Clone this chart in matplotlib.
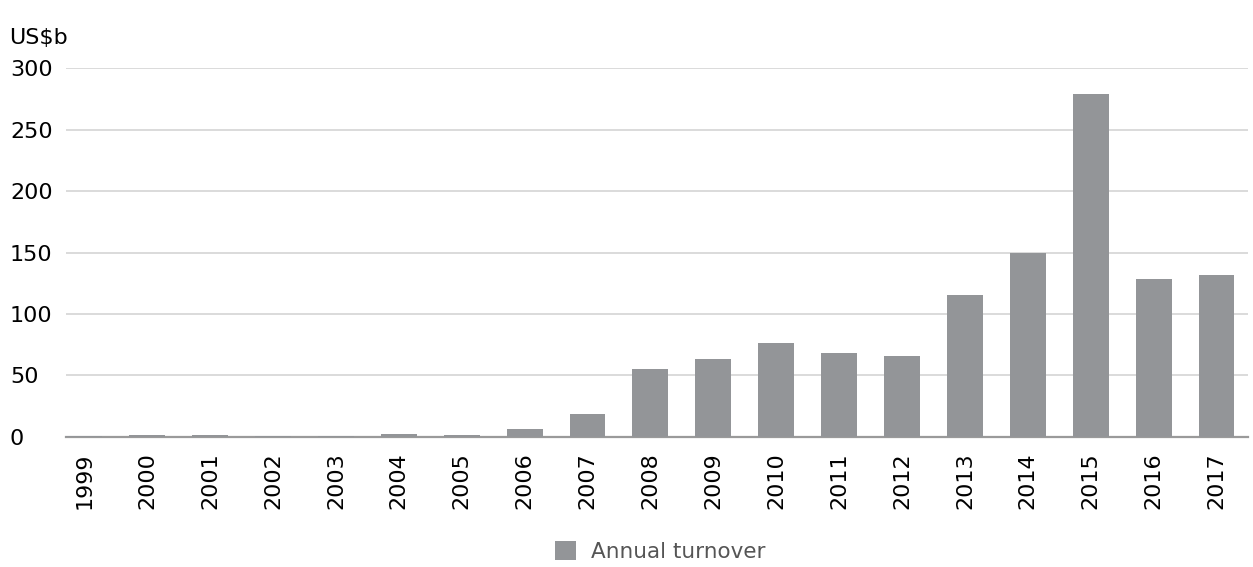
import numpy as np
import matplotlib
matplotlib.use("Agg")
import matplotlib.pyplot as plt

# annual turnover, US$ billions
years = ["1999", "2000", "2001", "2002", "2003", "2004", "2005", "2006", "2007",
         "2008", "2009", "2010", "2011", "2012", "2013", "2014", "2015", "2016", "2017"]
turnover = [0.6, 1.6, 1.6, 0.8, 0.8, 2.4, 1.6, 6.5, 18.7,
            55.3, 63.4, 76.4, 68.3, 65.9, 115.4, 149.8, 278.9, 128.5, 131.7]

bar_color = "#939598"

plt.rcParams["font.family"] = ["DejaVu Sans"]

fig = plt.figure(figsize=(12.53, 5.67), dpi=100)
ax = fig.add_axes([0.0527, 0.2293, 0.9433, 0.6507])

x = np.arange(len(years))
ax.bar(x, turnover, width=0.57, color=bar_color, zorder=3, label="Annual turnover")

ax.set_ylim(0, 300)
ax.set_xlim(-0.29, 18.5)
ax.set_yticks(np.arange(0, 301, 50))
ax.yaxis.grid(True, color="#d4d4d4", linewidth=1.2, zorder=0)
ax.set_axisbelow(True)

for s in ["top", "right", "left"]:
    ax.spines[s].set_visible(False)
ax.spines["bottom"].set_color("#9a9a9a")
ax.spines["bottom"].set_linewidth(1.6)

ax.set_xticks(x)
ax.set_xticklabels(years, rotation=90, fontsize=16)
ax.tick_params(axis="x", length=0, pad=11)
ax.tick_params(axis="y", length=0, labelsize=16, pad=0)
for lbl in ax.get_yticklabels():
    lbl.set_horizontalalignment("left")
    lbl.set_x(-0.0475)

fig.text(0.007, 0.933, "US$b", fontsize=16, va="center", ha="left", fontweight="medium")

fig.legend(loc="lower center", bbox_to_anchor=(0.527, -0.025), frameon=False,
           fontsize=15.5, handlelength=1.0, handleheight=1.0, handletextpad=0.7,
           labelcolor="#555555")

fig.savefig("out.png", dpi=100)
